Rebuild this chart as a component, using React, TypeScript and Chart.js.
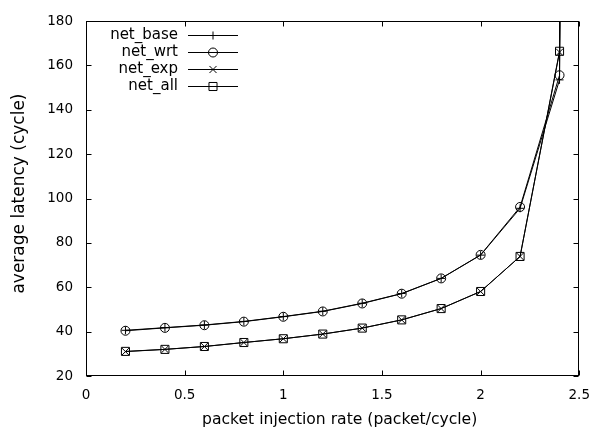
import React, { useEffect, useRef } from "react";
import { Chart, registerables } from "chart.js";

Chart.register(...registerables);

const rates = [0.2, 0.4, 0.6, 0.8, 1.0, 1.2, 1.4, 1.6, 1.8, 2.0, 2.2, 2.4, 2.6];
const netBase = [40.6, 41.8, 43.0, 44.6, 46.8, 49.2, 52.8, 57.2, 64.0, 74.5, 95.6, 153.5, 3000];
const netWrt = [40.4, 41.7, 42.9, 44.5, 46.7, 49.1, 52.7, 57.1, 64.0, 74.6, 96.2, 155.6, 3000];
const netExp = [31.0, 32.0, 33.3, 35.1, 36.8, 38.9, 41.6, 45.3, 50.4, 58.1, 73.9, 166.0, 3000];
const netAll = [31.1, 32.0, 33.3, 35.1, 36.8, 38.9, 41.6, 45.3, 50.4, 58.1, 73.9, 166.4, 3000];

const seriesNames = ["net_base", "net_wrt", "net_exp", "net_all"];
const seriesValues = [netBase, netWrt, netExp, netAll];
const pointStyles = ["cross", "circle", "crossRot", "rect"];
const pointSizes = [4, 4.5, 5, 5.7];

const xTicks = [0, 0.5, 1, 1.5, 2, 2.5];
const yTicks = [20, 40, 60, 80, 100, 120, 140, 160, 180];

const xTitle = "packet injection rate (packet/cycle)";
const yTitle = "average latency (cycle)";

const FONT = "'DejaVu Sans', sans-serif";

function drawMarker(ctx: CanvasRenderingContext2D, style: string, x: number, y: number, r: number) {
  ctx.beginPath();
  if (style === "cross") {
    ctx.moveTo(x - r, y);
    ctx.lineTo(x + r, y);
    ctx.moveTo(x, y - r);
    ctx.lineTo(x, y + r);
  } else if (style === "crossRot") {
    const d = r * Math.SQRT1_2;
    ctx.moveTo(x - d, y - d);
    ctx.lineTo(x + d, y + d);
    ctx.moveTo(x - d, y + d);
    ctx.lineTo(x + d, y - d);
  } else if (style === "circle") {
    ctx.arc(x, y, r, 0, Math.PI * 2);
  } else if (style === "rect") {
    const s = r * Math.SQRT1_2;
    ctx.rect(x - s, y - s, 2 * s, 2 * s);
  }
  ctx.stroke();
}

const framePlugin = {
  id: "gnuplotFrame",
  afterDraw(chart: any) {
    const { ctx, chartArea } = chart;
    const xs = chart.scales.x;
    const ys = chart.scales.y;
    const L = Math.round(chartArea.left) + 0.5;
    const R = Math.round(chartArea.right) - 0.5;
    const T = Math.round(chartArea.top) + 0.5;
    const B = Math.round(chartArea.bottom) - 0.5;
    ctx.save();
    ctx.strokeStyle = "#000";
    ctx.lineWidth = 1;
    ctx.strokeRect(L, T, R - L, B - T);
    const tl = 5;
    ctx.beginPath();
    for (const v of xTicks) {
      const px = Math.round(xs.getPixelForValue(v)) + 0.5;
      ctx.moveTo(px, B);
      ctx.lineTo(px, B - tl);
      ctx.moveTo(px, T);
      ctx.lineTo(px, T + tl);
    }
    for (const v of yTicks) {
      const py = Math.round(ys.getPixelForValue(v)) + 0.5;
      ctx.moveTo(L, py);
      ctx.lineTo(L + tl, py);
      ctx.moveTo(R, py);
      ctx.lineTo(R - tl, py);
    }
    ctx.stroke();

    // legend
    ctx.font = `15px ${FONT}`;
    ctx.fillStyle = "#000";
    ctx.textAlign = "right";
    ctx.textBaseline = "middle";
    for (let i = 0; i < seriesNames.length; i++) {
      const y = Math.round(chartArea.top + 14 + i * 17) + 0.5;
      ctx.fillText(seriesNames[i], chartArea.left + 92, y);
      ctx.beginPath();
      ctx.moveTo(chartArea.left + 102, y);
      ctx.lineTo(chartArea.left + 152, y);
      ctx.stroke();
      drawMarker(ctx, pointStyles[i], chartArea.left + 127, y, pointSizes[i]);
    }

    // axis titles
    ctx.textAlign = "center";
    ctx.textBaseline = "middle";
    ctx.font = `15.6px ${FONT}`;
    ctx.fillText(xTitle, (chartArea.left + chartArea.right) / 2 + 7, 420);
    ctx.translate(20, (chartArea.top + chartArea.bottom) / 2 - 5);
    ctx.rotate(-Math.PI / 2);
    ctx.font = `17px ${FONT}`;
    ctx.fillText(yTitle, 0, 0);
    ctx.restore();
  },
};

export default function App() {
  const ref = useRef<HTMLCanvasElement | null>(null);
  useEffect(() => {
    document.body.style.margin = "0";
    const canvas = ref.current;
    if (!canvas) return;
    const chart = new Chart(canvas, {
      type: "line",
      data: {
        datasets: seriesNames.map((name, i) => ({
          label: name,
          data: rates.map((r, j) => ({ x: r, y: seriesValues[i][j] })),
          borderColor: "#000",
          borderWidth: 1,
          backgroundColor: "transparent",
          pointStyle: pointStyles[i] as any,
          pointRadius: pointSizes[i],
          pointBorderWidth: 1,
          pointBorderColor: "#000",
          pointBackgroundColor: "transparent",
          tension: 0,
          fill: false,
        })),
      },
      options: {
        animation: false,
        responsive: false,
        devicePixelRatio: 1,
        layout: { padding: { left: 0, top: 15, right: 14, bottom: 0 } },
        plugins: { legend: { display: false }, tooltip: { enabled: false } },
        scales: {
          x: {
            type: "linear",
            min: 0,
            max: 2.5,
            grid: { display: false, drawTicks: false },
            border: { display: false },
            afterBuildTicks: (s: any) => {
              s.ticks = xTicks.map((v) => ({ value: v }));
            },
            afterFit: (s: any) => {
              s.height = 56;
            },
            ticks: {
              color: "#000",
              font: { family: FONT, size: 13.5 },
              padding: 11,
              maxRotation: 0,
              autoSkip: false,
              callback: (v: any) => String(+v),
            },
          },
          y: {
            type: "linear",
            min: 20,
            max: 180,
            grid: { display: false, drawTicks: false },
            border: { display: false },
            afterBuildTicks: (s: any) => {
              s.ticks = yTicks.map((v) => ({ value: v }));
            },
            afterFit: (s: any) => {
              s.width = 86;
            },
            ticks: {
              color: "#000",
              font: { family: FONT, size: 13.5 },
              padding: 13,
              autoSkip: false,
              callback: (v: any) => String(+v),
            },
          },
        },
      },
      plugins: [framePlugin],
    });
    return () => chart.destroy();
  }, []);
  return <canvas ref={ref} width={601} height={432} style={{ display: "block" }} />;
}
